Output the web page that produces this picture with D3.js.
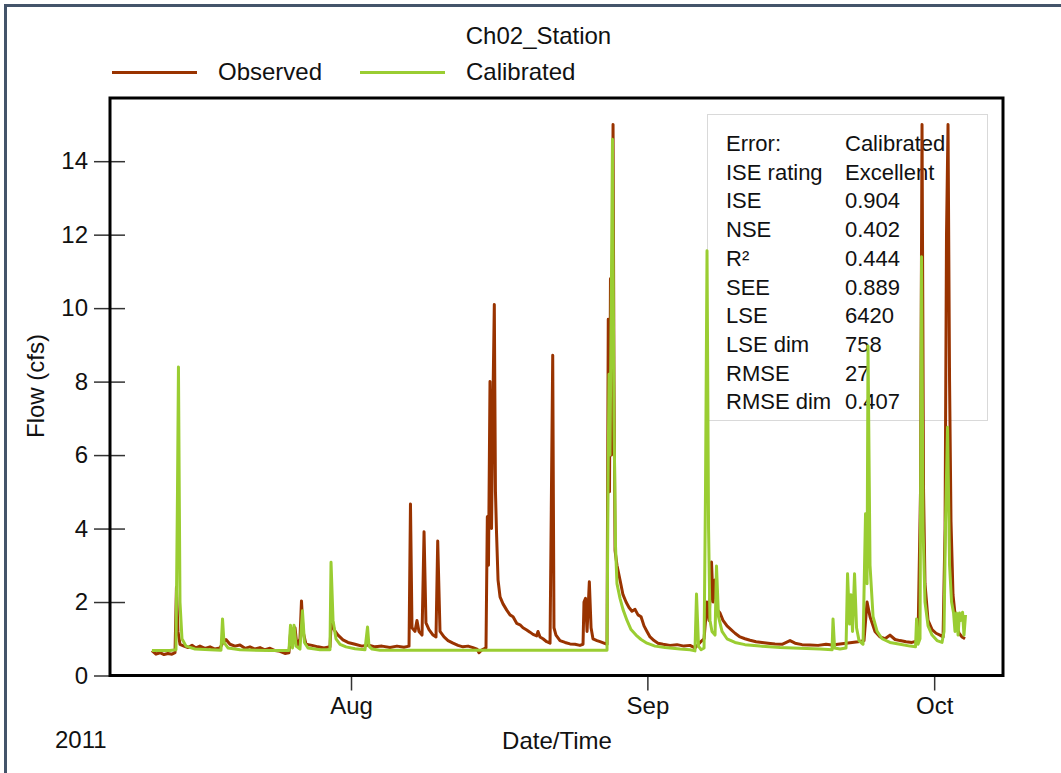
<!DOCTYPE html>
<html>
<head>
<meta charset="utf-8">
<script src="https://cdn.jsdelivr.net/npm/d3@7"></script>
<style>
    body { margin: 0; background: #fff; }
    svg { display: block; font-family: "Liberation Sans", Arial, sans-serif; }
</style>
</head>
<body>
<svg id="chart" width="1061" height="773"></svg>
<script>
"use strict";

// decimal day of year, 2011
const observedDoy = [
    192.18, 192.60, 193.02, 193.44, 193.85, 194.27, 194.59, 194.74, 194.90, 195.11,
    195.53, 195.95, 196.37, 196.78, 197.20, 197.73, 198.25, 198.77, 199.29, 199.61,
    199.92, 200.34, 200.86, 201.39, 201.91, 202.43, 202.96, 203.48, 204.00, 204.53,
    205.05, 205.57, 206.09, 206.51, 206.72, 206.93, 207.14, 207.35, 207.66, 207.82,
    207.98, 208.29, 208.92, 209.55, 210.17, 210.80, 210.96, 211.22, 211.64, 212.16,
    212.68, 213.42, 214.15, 214.78, 215.51, 216.24, 217.08, 217.81, 218.54, 219.07,
    219.22, 219.38, 219.69, 219.90, 220.11, 220.43, 220.64, 220.84, 221.16, 221.58,
    221.89, 222.07, 222.31, 222.73, 223.15, 223.67, 224.19, 224.71, 225.24, 225.76,
    226.18, 226.39, 226.70, 227.12, 227.26, 227.38, 227.54, 227.70, 227.85, 227.99,
    228.11, 228.22, 228.38, 228.59, 228.90, 229.29, 229.63, 229.95, 230.33, 230.68,
    230.99, 231.38, 231.72, 232.04, 232.42, 232.56, 232.77, 233.08, 233.47, 233.82,
    234.10, 234.23, 234.44, 234.86, 235.39, 235.91, 236.43, 236.95, 237.27, 237.37,
    237.53, 237.69, 237.93, 238.11, 238.31, 238.73, 239.05, 239.46, 239.78, 239.91,
    240.04, 240.14, 240.25, 240.41, 240.51, 240.62, 240.82, 241.14, 241.45, 241.77,
    242.08, 242.39, 242.71, 243.02, 243.34, 243.65, 243.96, 244.28, 244.70, 245.11,
    245.64, 246.37, 247.10, 247.83, 248.46, 248.98, 249.51, 249.93, 250.24, 250.45,
    250.71, 250.87, 251.08, 251.29, 251.60, 251.91, 252.33, 252.75, 253.17, 253.69,
    254.21, 254.74, 255.37, 255.99, 256.62, 257.35, 258.09, 258.92, 259.45, 260.18,
    261.01, 261.85, 262.69, 263.32, 264.15, 264.78, 265.41, 266.04, 266.66, 266.98,
    267.29, 267.81, 268.34, 268.86, 269.38, 269.91, 270.43, 271.06, 271.68, 272.31,
    272.57, 272.73, 272.89, 273.04, 273.36, 273.78, 274.20, 274.61, 274.93, 275.14,
    275.29, 275.45, 275.61, 275.76, 275.97, 276.29, 276.60, 276.92, 277.23
];
const observedFlow = [
    0.68, 0.58, 0.62, 0.57, 0.60, 0.58, 0.62, 2.40, 1.20, 0.85,
    0.80, 0.76, 0.82, 0.75, 0.80, 0.74, 0.78, 0.72, 0.75, 0.90,
    0.98, 0.85, 0.80, 0.83, 0.74, 0.78, 0.72, 0.76, 0.70, 0.74,
    0.68, 0.66, 0.60, 0.62, 1.30, 0.90, 1.30, 0.80, 1.00, 2.03,
    1.20, 0.85, 0.82, 0.78, 0.75, 0.78, 1.60, 1.25, 1.10, 0.97,
    0.90, 0.85, 0.80, 0.83, 0.78, 0.80, 0.76, 0.80, 0.77, 0.80,
    4.67, 1.30, 1.20, 1.50, 1.20, 1.10, 3.91, 1.43, 1.25, 1.10,
    1.05, 3.66, 1.20, 1.05, 0.95, 0.88, 0.82, 0.78, 0.80, 0.76,
    0.72, 0.62, 0.70, 0.75, 4.32, 3.00, 8.00, 4.00, 7.50, 10.10,
    5.00, 3.90, 2.60, 2.14, 1.95, 1.78, 1.65, 1.60, 1.42, 1.38,
    1.30, 1.24, 1.18, 1.12, 1.08, 1.20, 1.05, 1.00, 0.92, 0.88,
    8.72, 1.30, 1.10, 0.95, 0.90, 0.86, 0.85, 0.82, 0.85, 2.00,
    2.10, 1.20, 2.55, 1.30, 1.00, 0.95, 0.92, 0.88, 0.85, 9.70,
    5.00, 10.80, 6.00, 15.00, 8.00, 3.40, 3.00, 2.60, 2.20, 2.00,
    1.85, 1.75, 1.80, 1.65, 1.60, 1.35, 1.20, 1.05, 0.95, 0.88,
    0.85, 0.82, 0.84, 0.80, 0.82, 0.75, 0.90, 1.00, 2.00, 1.50,
    3.09, 2.00, 2.60, 1.80, 1.70, 1.50, 1.35, 1.25, 1.15, 1.05,
    1.00, 0.96, 0.92, 0.90, 0.88, 0.86, 0.85, 0.95, 0.88, 0.84,
    0.83, 0.82, 0.85, 0.83, 0.86, 0.88, 0.90, 0.92, 0.95, 2.00,
    1.60, 1.20, 1.05, 1.00, 1.10, 0.98, 0.95, 0.92, 0.90, 0.95,
    5.00, 15.00, 5.00, 2.50, 1.50, 1.25, 1.15, 1.10, 1.05, 4.00,
    12.00, 15.00, 8.00, 4.20, 2.20, 1.40, 1.15, 1.05, 1.00
];

const calibratedDoy = [
    192.18, 194.06, 194.69, 194.85, 194.95, 195.11, 195.32, 195.74, 196.68, 198.25,
    199.40, 199.56, 199.71, 200.13, 201.39, 204.53, 206.51, 206.67, 206.88, 207.04,
    207.25, 207.66, 207.92, 208.13, 208.50, 209.76, 210.80, 210.91, 211.12, 211.43,
    211.85, 212.48, 213.42, 214.46, 214.73, 214.88, 215.20, 216.03, 239.78, 239.88,
    239.99, 240.09, 240.25, 240.35, 240.51, 240.67, 240.82, 241.14, 241.45, 241.87,
    242.29, 242.81, 243.34, 243.96, 244.80, 245.85, 247.42, 248.46, 248.98, 249.14,
    249.35, 249.61, 249.93, 250.08, 250.24, 250.40, 250.55, 250.76, 251.08, 251.23,
    251.44, 251.81, 252.33, 253.17, 254.21, 255.78, 257.88, 259.97, 262.06, 263.32,
    263.42, 263.58, 264.15, 264.78, 264.94, 265.15, 265.30, 265.46, 265.67, 265.88,
    266.14, 266.56, 266.82, 266.98, 267.08, 267.29, 267.61, 268.03, 268.55, 269.38,
    270.43, 271.48, 272.05, 272.16, 272.31, 272.52, 272.68, 272.84, 273.04, 273.36,
    273.78, 274.30, 274.82, 275.03, 275.19, 275.40, 275.61, 275.82, 276.03, 276.18,
    276.34, 276.50, 276.65, 276.81, 276.97, 277.12, 277.28
];
const calibratedFlow = [
    0.68, 0.68, 0.70, 5.00, 8.40, 2.00, 1.00, 0.80, 0.72, 0.70,
    0.69, 1.54, 0.90, 0.75, 0.70, 0.68, 0.68, 1.37, 0.75, 1.37,
    0.80, 0.72, 1.76, 0.90, 0.75, 0.70, 0.70, 3.08, 1.50, 1.00,
    0.85, 0.78, 0.73, 0.70, 1.32, 0.80, 0.72, 0.69, 0.69, 5.00,
    8.20, 6.00, 11.00, 14.60, 7.00, 3.50, 2.50, 2.10, 1.80, 1.50,
    1.25, 1.10, 0.98, 0.88, 0.80, 0.76, 0.72, 0.70, 0.67, 2.22,
    0.80, 0.70, 0.75, 5.00, 11.56, 4.00, 1.50, 1.20, 1.10, 2.98,
    1.60, 1.20, 1.00, 0.90, 0.84, 0.80, 0.76, 0.74, 0.72, 0.70,
    1.54, 0.75, 0.72, 0.75, 2.77, 1.40, 2.20, 1.20, 2.77, 1.30,
    0.95, 0.85, 4.40, 2.50, 8.97, 3.00, 1.60, 1.20, 1.00, 0.90,
    0.85, 0.80, 0.78, 1.54, 0.85, 1.00, 11.40, 4.00, 2.00, 1.35,
    1.10, 0.95, 0.90, 1.20, 4.20, 6.76, 3.00, 2.00, 1.70, 1.20,
    1.70, 1.10, 1.70, 1.50, 1.72, 1.10, 1.65
];

const yTicks = [0, 2, 4, 6, 8, 10, 12, 14];
const errorLabels = ["Error:", "ISE rating", "ISE", "NSE", "R\u00b2", "SEE", "LSE", "LSE dim", "RMSE", "RMSE dim"];
const errorValues = ["Calibrated", "Excellent", "0.904", "0.402", "0.444", "0.889", "6420", "758", "27", "0.407"];

const doyToDate = (doy) => new Date(Date.UTC(2011, 0, 1) + (doy - 1) * 864e5);

const observed = d3.zip(observedDoy, observedFlow).map(([t, v]) => ({ date: doyToDate(t), value: v }));
const calibrated = d3.zip(calibratedDoy, calibratedFlow).map(([t, v]) => ({ date: doyToDate(t), value: v }));

const svg = d3.select("#chart");

const plotLeft = 110, plotRight = 1003, plotTop = 98, plotBottom = 675.5;

// outer frame (top and left edges only are in view)
svg.append("line")
    .attr("x1", 4).attr("y1", 5.5).attr("x2", 1061).attr("y2", 5.5)
    .attr("stroke", "#44546a").attr("stroke-width", 3);
svg.append("line")
    .attr("x1", 5.5).attr("y1", 4).attr("x2", 5.5).attr("y2", 773)
    .attr("stroke", "#44546a").attr("stroke-width", 3);

const xScale = d3.scaleUtc()
    .domain([doyToDate(187.79), doyToDate(281.2)])
    .range([plotLeft, plotRight]);

const yScale = d3.scaleLinear()
    .domain([0, 15.72])
    .range([plotBottom, plotTop]);

// title + legend
svg.append("text")
    .attr("x", 538.5).attr("y", 44)
    .attr("text-anchor", "middle")
    .style("font-size", "24px")
    .attr("fill", "#111")
    .text("Ch02_Station");

const legend = [
    { name: "Observed", color: "#993300", x: 112 },
    { name: "Calibrated", color: "#9acd32", x: 360 }
];
const legendItems = svg.selectAll(".legend").data(legend).enter().append("g")
    .attr("transform", (d) => `translate(${d.x}, 72.5)`);
legendItems.append("line")
    .attr("x1", 0).attr("x2", 85)
    .attr("stroke", (d) => d.color)
    .attr("stroke-width", 3);
legendItems.append("text")
    .attr("x", 106).attr("y", 7.5)
    .style("font-size", "24px")
    .attr("fill", "#111")
    .text((d) => d.name);

// axes
const yAxis = svg.append("g")
    .attr("transform", `translate(${plotLeft}, 0)`)
    .call(d3.axisLeft(yScale).tickValues(yTicks).tickSize(16).tickPadding(6));
yAxis.select(".domain").remove();
yAxis.selectAll(".tick line").attr("x2", -16).attr("x1", 15).attr("stroke", "#333").attr("stroke-width", 1.5);
yAxis.selectAll(".tick text").style("font-size", "24px").attr("fill", "#111");
yAxis.attr("font-family", null);

const xAxis = svg.append("g")
    .attr("transform", `translate(0, ${plotBottom})`)
    .call(d3.axisBottom(xScale).ticks(d3.utcMonth.every(1)).tickFormat(d3.utcFormat("%b")).tickSize(15).tickPadding(6));
xAxis.select(".domain").remove();
xAxis.selectAll(".tick line").attr("stroke", "#333").attr("stroke-width", 1.5);
xAxis.selectAll(".tick text").style("font-size", "24px").attr("fill", "#111");
xAxis.attr("font-family", null);

svg.append("text")
    .attr("x", 55).attr("y", 748)
    .style("font-size", "24px").attr("fill", "#111")
    .text("2011");

svg.append("text")
    .attr("x", 557).attr("y", 749)
    .attr("text-anchor", "middle")
    .style("font-size", "24px").attr("fill", "#111")
    .text("Date/Time");

svg.append("text")
    .attr("transform", "translate(44, 386) rotate(-90)")
    .attr("text-anchor", "middle")
    .style("font-size", "24px").attr("fill", "#111")
    .text("Flow (cfs)");

// error statistics box (sits under the lines)
svg.append("rect")
    .attr("x", 707.5).attr("y", 114.5)
    .attr("width", 280).attr("height", 306)
    .attr("fill", "#fff")
    .attr("stroke", "#d9d9d9");

const rows = svg.append("g").style("font-size", "22px").attr("fill", "#111");
rows.selectAll(".lbl").data(errorLabels).enter().append("text")
    .attr("x", 726)
    .attr("y", (d, i) => 151 + i * 28.7)
    .text((d) => d);
rows.selectAll(".val").data(errorValues).enter().append("text")
    .attr("x", 845)
    .attr("y", (d, i) => 151 + i * 28.7)
    .text((d) => d);

// series
const line = d3.line()
    .x((d) => xScale(d.date))
    .y((d) => yScale(d.value));

svg.append("path")
    .datum(observed)
    .attr("d", line)
    .attr("fill", "none")
    .attr("stroke", "#993300")
    .attr("stroke-width", 3)
    .attr("stroke-linejoin", "round");

svg.append("path")
    .datum(calibrated)
    .attr("d", line)
    .attr("fill", "none")
    .attr("stroke", "#9acd32")
    .attr("stroke-width", 3)
    .attr("stroke-linejoin", "round");

// plot frame
svg.append("rect")
    .attr("x", plotLeft).attr("y", plotTop)
    .attr("width", plotRight - plotLeft).attr("height", plotBottom - plotTop)
    .attr("fill", "none")
    .attr("stroke", "#000")
    .attr("stroke-width", 3);
</script>
</body>
</html>
